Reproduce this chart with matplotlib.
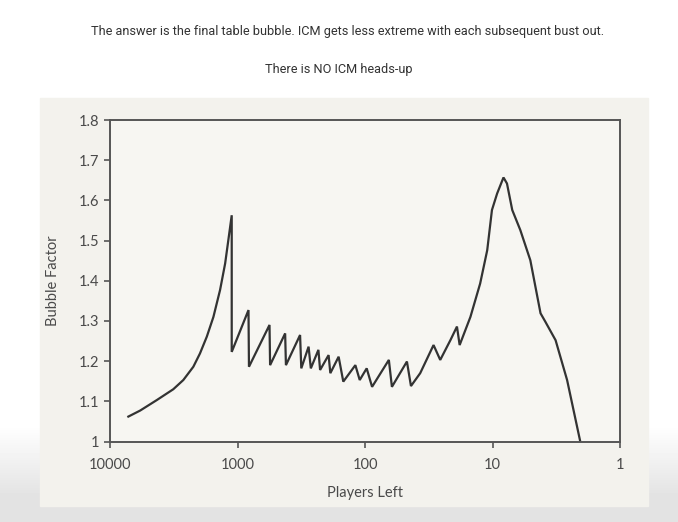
import matplotlib.pyplot as plt
import numpy as np
from matplotlib.patches import Rectangle

# --- data ---
players_left = [7180, 5800, 4300, 3190, 2660, 2220, 1970, 1740, 1545, 1370, 1250, 1180, 1110,
                1110, 820, 813, 561, 555, 423, 417, 323, 316, 277, 266, 232, 225, 193, 187,
                161, 148, 119, 110, 97, 88, 65, 61.5, 46.9, 43.6, 36.9, 29, 25.7, 21.4, 19,
                18.1, 14.9, 12.5, 11, 10.1, 9.2, 8.2, 7.7, 7.0, 6.05, 5.05, 4.2, 3.85, 3.2,
                2.6, 2.05]
bubble_factor = [1.062, 1.077, 1.103, 1.130, 1.153, 1.186, 1.219, 1.261, 1.310, 1.377, 1.443,
                 1.501, 1.563, 1.223, 1.327, 1.186, 1.290, 1.190, 1.269, 1.190, 1.265, 1.182,
                 1.236, 1.182, 1.228, 1.178, 1.215, 1.170, 1.211, 1.149, 1.190, 1.153, 1.182,
                 1.136, 1.203, 1.136, 1.199, 1.138, 1.170, 1.240, 1.203, 1.252, 1.286, 1.240,
                 1.310, 1.393, 1.476, 1.576, 1.617, 1.657, 1.642, 1.576, 1.526, 1.451, 1.319,
                 1.298, 1.252, 1.153, 1.000]

x_ticks = [10000, 1000, 100, 10, 1]
x_labels = ['10000', '1000', '100', '10', '1']
y_ticks = [1, 1.1, 1.2, 1.3, 1.4, 1.5, 1.6, 1.7, 1.8]
y_labels = ['1', '1.1', '1.2', '1.3', '1.4', '1.5', '1.6', '1.7', '1.8']

fig = plt.figure(figsize=(6.78, 5.22), dpi=100)
W, H = 678, 522

# background: white page fading to grey at the bottom
bg = fig.add_axes([0, 0, 1, 1])
grad = np.ones((H, 1))
rows = np.arange(H)
grad[:, 0] = np.where(rows > 425, 1 - 0.11 * np.clip((rows - 425) / 70, 0, 1), 1)
bg.imshow(grad, cmap='gray', vmin=0, vmax=1, aspect='auto', extent=[0, W, H, 0])
# scanned page
bg.add_patch(Rectangle((40, 98), 608, 408, color='#f3f2ed', zorder=2))
bg.set_xlim(0, W)
bg.set_ylim(H, 0)
bg.axis('off')

fig.text(348 / W, 1 - 31 / H,
         'The answer is the final table bubble. ICM gets less extreme with each subsequent bust out.',
         ha='center', va='center', fontsize=9.2, color='#333333', family='Roboto')
fig.text(339 / W, 1 - 70 / H, 'There is NO ICM heads-up',
         ha='center', va='center', fontsize=9.2, color='#333333', family='Roboto')

ax = fig.add_axes([110 / W, 1 - 441.5 / H, 510 / W, 321.5 / H])
ax.set_facecolor('#f7f6f2')
ax.plot(players_left, bubble_factor, color='#333333', lw=1.6, solid_joinstyle='miter')
ax.set_xscale('log')
ax.set_xlim(10000, 1)
ax.set_ylim(1, 1.8)
ax.set_xticks(x_ticks)
ax.set_xticklabels(x_labels)
ax.set_yticks(y_ticks)
ax.set_yticklabels(y_labels)
ax.minorticks_off()
ax.tick_params(colors='#555555', labelcolor='#4a4a4a', labelsize=10.5, length=4, width=1.2)
ax.tick_params(axis='x', pad=8)
for lab in ax.get_xticklabels() + ax.get_yticklabels():
    lab.set_family('Lato')
for s in ax.spines.values():
    s.set_color('#555555')
    s.set_linewidth(1.4)
ax.set_xlabel('Players Left', family='Lato', fontsize=10.5, color='#4a4a4a', labelpad=10)
ax.set_ylabel('Bubble Factor', family='Lato', fontsize=10.5, color='#4a4a4a', labelpad=14)

plt.savefig('out.png', dpi=100)
